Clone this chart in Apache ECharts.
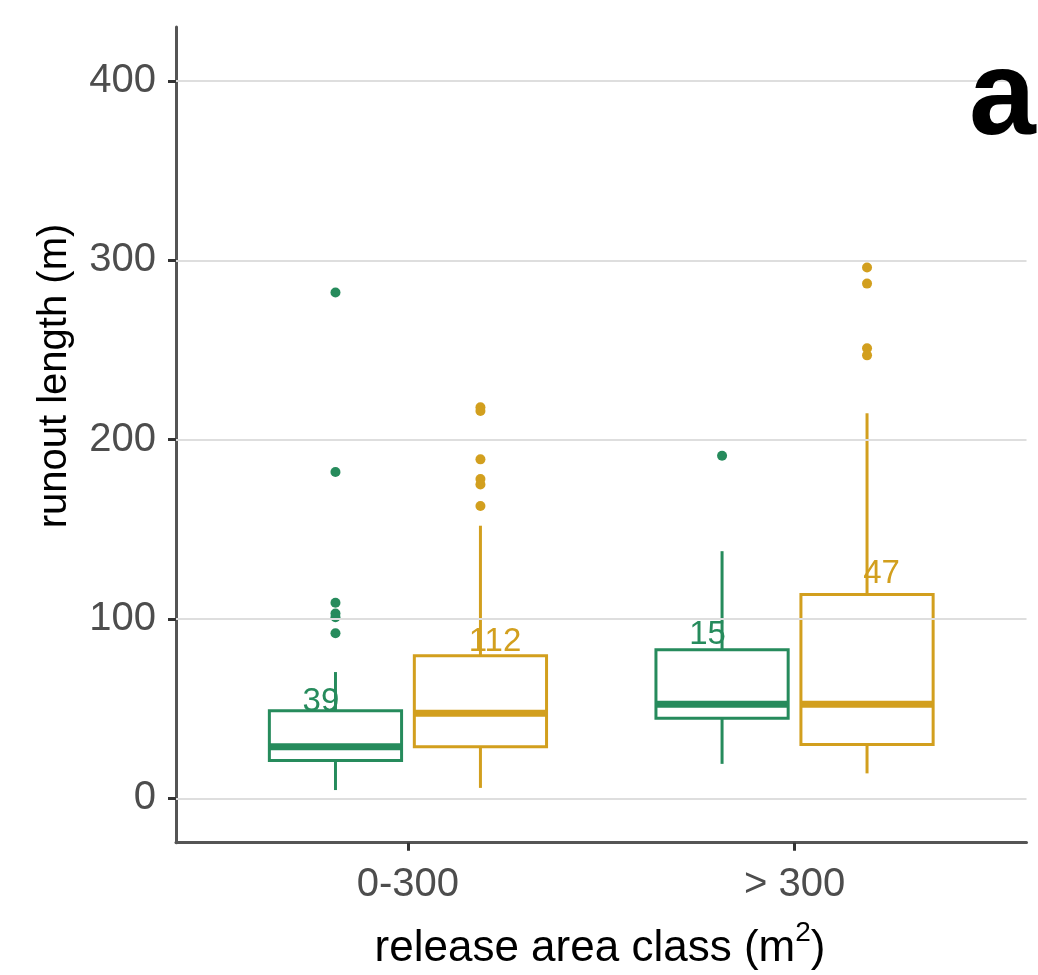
<!DOCTYPE html>
<html>
<head>
<meta charset="utf-8">
<script src="https://cdn.jsdelivr.net/npm/echarts@6/dist/echarts.min.js"></script>
<style>
    html, body { margin: 0; padding: 0; background: #fff; }
    #chart { width: 1038px; height: 975px; }
</style>
</head>
<body>
<div id="chart"></div>
<script>
// data
var categories = ['0-300', '> 300'];
var yTicks = [0, 100, 200, 300, 400];
// [min, q1, median, q3, max]
var greenStats = [[4.6, 21.1, 28.8, 48.8, 70.4], [19.2, 44.7, 52.5, 82.9, 137.8]];
var goldStats = [[5.8, 28.8, 47.4, 79.5, 152], [13.9, 30, 52.5, 113.7, 214.7]];
var greenOutliers = [[282, 182, 109, 103, 101, 92], [191]];
var goldOutliers = [[218, 216, 189, 178, 175, 163], [296, 287, 251, 247]];
var greenCounts = [39, 15];
var goldCounts = [112, 47];

var GREEN = '#268B5C';
var GOLD = '#D29F1E';
var FONT = 'Liberation Sans, Arial, sans-serif';

var boxOffset = 0.1875;
var labelOffset = 0.225;
var boxHalf = 0.171;

function $each(arr, fn) {
    for (var i = 0; i < arr.length; i++) fn(i, arr[i]);
}
function boxData(stats, sign) {
    var out = [];
    $each(stats, function(i, s) {
        out.push([i + 1 + sign * boxOffset].concat(s));
    });
    return out;
}
function outlierData(list, sign) {
    var out = [];
    $each(list, function(i, vals) {
        $each(vals, function(j, v) {
            out.push([i + 1 + sign * boxOffset, v]);
        });
    });
    return out;
}
function labelData(stats, counts, sign) {
    var out = [];
    $each(counts, function(i, n) {
        out.push([i + 1 + sign * labelOffset, stats[i][3] * 1.1, n]);
    });
    return out;
}

function boxRenderer(color) {
    return function(params, api) {
        var x = api.value(0);
        var lo = api.coord([x, api.value(1)]);
        var q1 = api.coord([x, api.value(2)]);
        var med = api.coord([x, api.value(3)]);
        var q3 = api.coord([x, api.value(4)]);
        var hi = api.coord([x, api.value(5)]);
        var hw = api.size([boxHalf, 0])[0];
        var lw = 3;
        return {
            type: 'group',
            children: [
                {type: 'line', shape: {x1: lo[0], y1: lo[1], x2: q1[0], y2: q1[1]}, style: {stroke: color, lineWidth: lw}},
                {type: 'line', shape: {x1: q3[0], y1: q3[1], x2: hi[0], y2: hi[1]}, style: {stroke: color, lineWidth: lw}},
                {type: 'rect', shape: {x: q1[0] - hw, y: q3[1], width: 2 * hw, height: q1[1] - q3[1]},
                    style: {fill: '#fff', stroke: color, lineWidth: lw}},
                {type: 'line', shape: {x1: med[0] - hw, y1: med[1], x2: med[0] + hw, y2: med[1]},
                    style: {stroke: color, lineWidth: 7}}
            ]
        };
    };
}
function labelRenderer(color) {
    return function(params, api) {
        var p = api.coord([api.value(0), api.value(1)]);
        return {
            type: 'text',
            x: p[0], y: p[1],
            style: {
                text: String(api.value(2)),
                fill: color,
                font: '33px ' + FONT,
                align: 'center',
                verticalAlign: 'middle'
            }
        };
    };
}

var gridLines = [];
$each(yTicks, function(i, t) { gridLines.push({yAxis: t}); });

var myChart = echarts.init(document.getElementById('chart'));
var option = {
    backgroundColor: '#fff',
    animation: false,
    grid: {left: 176, right: 11.5, top: 27, bottom: 132.3, containLabel: false},
    xAxis: {
        type: 'value',
        min: 0.4,
        max: 2.6,
        splitLine: {show: false},
        axisLine: {show: true, onZero: false, lineStyle: {color: '#555', width: 3}},
        axisTick: {show: true, customValues: [1, 2], length: 8, lineStyle: {color: '#333', width: 3}},
        axisLabel: {
            customValues: [1, 2],
            formatter: function(v) { return categories[Math.round(v) - 1]; },
            fontSize: 40, color: '#4D4D4D', fontFamily: FONT, margin: 22
        }
    },
    yAxis: {
        type: 'value',
        min: -24.76,
        max: 430.1,
        splitLine: {show: false},
        axisLine: {show: true, onZero: false, lineStyle: {color: '#555', width: 3}},
        axisTick: {show: true, customValues: yTicks, length: 8, lineStyle: {color: '#333', width: 3}},
        axisLabel: {customValues: yTicks, fontSize: 40, color: '#4D4D4D', fontFamily: FONT, margin: 20}
    },
    graphic: [
        {
            type: 'text', x: 55, y: 376, rotation: Math.PI / 2,
            style: {text: 'runout length (m)', font: '40px ' + FONT, fill: '#000', align: 'center', verticalAlign: 'middle'}
        },
        {
            type: 'text', x: 600, y: 945,
            style: {
                text: '{a|release area class (m}{s|2}{a|)}',
                align: 'center', verticalAlign: 'middle',
                rich: {
                    a: {fontSize: 44, fontFamily: FONT, fill: '#000', lineHeight: 52, verticalAlign: 'bottom'},
                    s: {fontSize: 28, fontFamily: FONT, fill: '#000', lineHeight: 28, verticalAlign: 'top'}
                }
            }
        },
        {
            type: 'text', x: 969, y: 101, z: 100,
            style: {text: 'a', font: 'bold 120px ' + FONT, fill: '#000', align: 'left', verticalAlign: 'middle'}
        }
    ],
    series: [
        {
            name: 'grid',
            type: 'line',
            data: [],
            z: 1,
            markLine: {
                silent: true,
                symbol: 'none',
                label: {show: false},
                lineStyle: {color: '#DEDEDE', width: 2, type: 'solid'},
                data: gridLines
            }
        },
        {type: 'custom', name: 'green', z: 3, renderItem: boxRenderer(GREEN), data: boxData(greenStats, -1)},
        {type: 'custom', name: 'gold', z: 3, renderItem: boxRenderer(GOLD), data: boxData(goldStats, 1)},
        {type: 'scatter', name: 'green out', z: 4, symbolSize: 10, itemStyle: {color: GREEN, opacity: 1}, data: outlierData(greenOutliers, -1)},
        {type: 'scatter', name: 'gold out', z: 4, symbolSize: 10, itemStyle: {color: GOLD, opacity: 1}, data: outlierData(goldOutliers, 1)},
        {type: 'custom', name: 'green n', z: 5, renderItem: labelRenderer(GREEN), data: labelData(greenStats, greenCounts, -1)},
        {type: 'custom', name: 'gold n', z: 5, renderItem: labelRenderer(GOLD), data: labelData(goldStats, goldCounts, 1)}
    ]
};
myChart.setOption(option);
</script>
</body>
</html>
